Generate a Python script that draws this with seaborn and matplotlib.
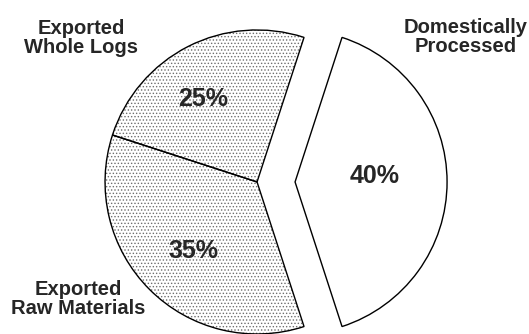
import matplotlib
matplotlib.use("Agg")
import matplotlib.pyplot as plt
import seaborn as sns

categories = ["Domestically\nProcessed", "Exported\nWhole Logs", "Exported\nRaw Materials"]
shares = [40, 25, 35]
pct_labels = ["40%", "25%", "35%"]
explode = [0.25, 0, 0]

sns.set_theme(style="white")
plt.rcParams['font.family'] = ['Liberation Sans', 'DejaVu Sans']
plt.rcParams['hatch.linewidth'] = 0.6

fig = plt.figure(figsize=(5.29, 3.34), dpi=100)
ax = fig.add_axes([0, 0, 1, 1])
# hatch layer
hw, _ = ax.pie(shares, explode=explode, startangle=-72, counterclock=True,
               colors=["white", "white", "white"],
               wedgeprops=dict(edgecolor="#6e6e6e", linewidth=0))
hw[1].set_hatch('.....')
hw[2].set_hatch('.....')
# outline layer
ow, _ = ax.pie(shares, explode=explode, startangle=-72, counterclock=True,
               wedgeprops=dict(fill=False, edgecolor="black", linewidth=1.0))

ax.set_aspect('equal')
ax.set_xlim(-1.691, 1.789)
ax.set_ylim(-1.0, 1.197)
ax.axis('off')

def px(x, y):
    return ((x - 257) / 152.0, (182 - y) / 152.0)

pfs = 18
ax.text(*px(375, 176), pct_labels[0], ha='center', va='center', fontsize=pfs, fontweight='bold')
ax.text(*px(203, 99), pct_labels[1], ha='center', va='center', fontsize=pfs, fontweight='bold')
ax.text(*px(193, 251), pct_labels[2], ha='center', va='center', fontsize=pfs, fontweight='bold')

lfs = 14.5
ax.text(*px(466, 37), categories[0], ha='center', va='center', fontsize=lfs, fontweight='bold', linespacing=1.0)
ax.text(*px(81, 38), categories[1], ha='center', va='center', fontsize=lfs, fontweight='bold', linespacing=1.0)
ax.text(*px(78, 299), categories[2], ha='center', va='center', fontsize=lfs, fontweight='bold', linespacing=1.0)

fig.savefig("out.png", dpi=100)
